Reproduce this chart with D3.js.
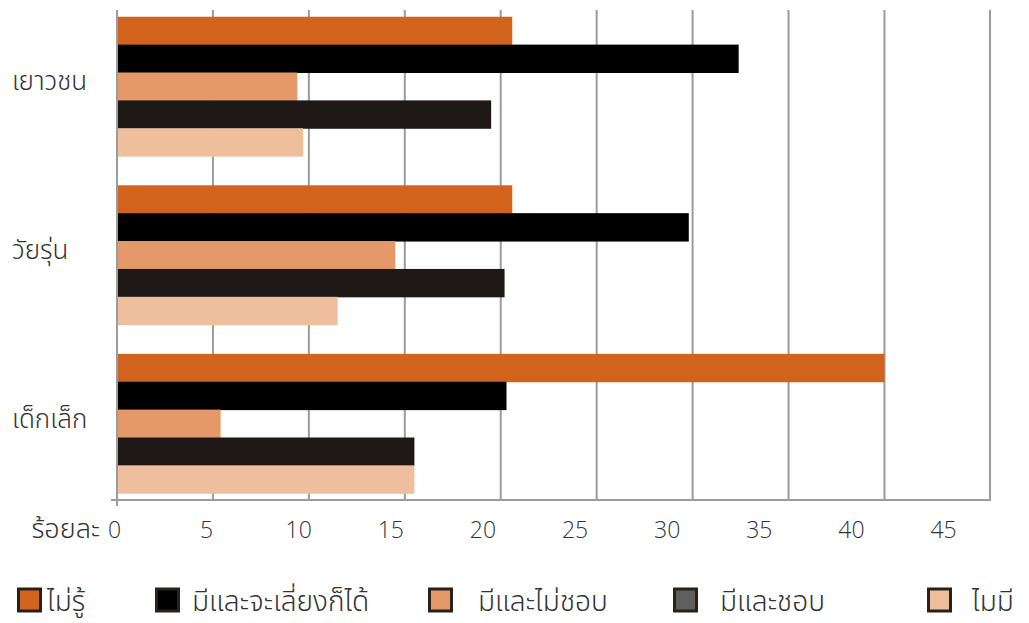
<!DOCTYPE html>
<html>
<head>
<meta charset="utf-8">
<script src="https://cdn.jsdelivr.net/npm/d3@7"></script>
<style>
  body { margin: 0; background: #fff; }
  svg { display: block; font-family: "Noto Sans Thai", "Leelawadee UI", Tahoma, "Noto Sans", sans-serif; font-weight: 300; }
</style>
</head>
<body>
<svg id="chart" width="1029" height="623"></svg>
<script>
// age groups, top to bottom
const categories = ["เยาวชน", "วัยรุ่น", "เด็กเล็ก"];
const seriesNames = ["ไม่รู้", "มีและจะเลี่ยงก็ได้", "มีและไม่ชอบ", "มีและชอบ", "ไมมี"];
const barColors = ["#d2631c", "#000000", "#e59968", "#1e1916", "#efbe9c"];
const legendColors = ["#d2631c", "#000000", "#e59968", "#5f5f5f", "#efbe9c"];
// percent per series, one value per category (เยาวชน, วัยรุ่น, เด็กเล็ก)
const noIdea = [20.6, 20.6, 40.0];
const haveAvoidOk = [32.4, 29.8, 20.3];
const haveDislike = [9.4, 14.5, 5.4];
const haveLike = [19.5, 20.2, 15.5];
const none = [9.7, 11.5, 15.5];
const tickValues = [0, 5, 10, 15, 20, 25, 30, 35, 40, 45];
const gridValues = [0, 5, 10, 15, 20, 25, 30, 35, 40];
const axisTitle = "ร้อยละ";

const values = [noIdea, haveAvoidOk, haveDislike, haveLike, none];

const svg = d3.select("#chart");
const plot = { left: 117, right: 990, top: 10, bottom: 500 };
const gridColor = "#9c9ca0";

var x = d3.scaleLinear().domain([0, 45.5]).range([plot.left, plot.right]);
// tick text sits a little off the grid in the original
var xLabel = d3.scaleLinear().domain([0, 45]).range([114, 943]);

var y0 = d3.scaleBand().domain(categories).range([plot.top, plot.bottom])
    .paddingInner(0.173).paddingOuter(0.04);
var y1 = d3.scaleBand().domain(d3.range(seriesNames.length)).range([0, y0.bandwidth()]);

// vertical grid lines
svg.append("g").selectAll("line")
    .data(gridValues.slice(1))
    .join("line")
    .attr("x1", d => x(d)).attr("x2", d => x(d))
    .attr("y1", plot.top).attr("y2", plot.bottom)
    .attr("stroke", gridColor).attr("stroke-width", 2);

// right border
svg.append("line")
    .attr("x1", x(45.5)).attr("x2", x(45.5))
    .attr("y1", plot.top).attr("y2", plot.bottom + 1)
    .attr("stroke", gridColor).attr("stroke-width", 2);

// bars
const groups = svg.append("g").selectAll("g")
    .data(categories)
    .join("g")
    .attr("transform", d => `translate(0,${y0(d)})`);

groups.selectAll("rect")
    .data((c, ci) => values.map((s, si) => ({ si: si, v: s[ci] })))
    .join("rect")
    .attr("x", x(0))
    .attr("y", d => y1(d.si))
    .attr("width", d => x(d.v) - x(0))
    .attr("height", y1.bandwidth() + 0.5)
    .attr("fill", d => barColors[d.si]);

// left axis line and bottom axis line
svg.append("line")
    .attr("x1", x(0)).attr("x2", x(0))
    .attr("y1", plot.top).attr("y2", plot.bottom + 6)
    .attr("stroke", gridColor).attr("stroke-width", 2);
svg.append("line")
    .attr("x1", x(0) - 6).attr("x2", x(45.5) + 1)
    .attr("y1", plot.bottom).attr("y2", plot.bottom)
    .attr("stroke", gridColor).attr("stroke-width", 2);

// tick labels
const xAxis = d3.axisBottom(xLabel).tickValues(tickValues).tickSize(0).tickPadding(0);
const axisG = svg.append("g").attr("transform", `translate(0,${plot.bottom + 38})`).call(xAxis);
axisG.select(".domain").remove();
axisG.selectAll("text")
    .attr("dy", 0)
    .style("font-family", "'Open Sans', 'Noto Sans', sans-serif")
    .style("font-weight", 300)
    .style("font-size", "23px")
    .attr("fill", "#333");

svg.append("text")
    .attr("x", 100).attr("y", plot.bottom + 38)
    .attr("text-anchor", "end")
    .style("font-size", "27px")
    .attr("fill", "#333")
    .text(axisTitle);

// category labels
svg.append("g").selectAll("text")
    .data(categories)
    .join("text")
    .attr("x", 12)
    .attr("y", d => y0(d) + y0.bandwidth() / 2 + 4)
    .style("font-size", "26px")
    .attr("fill", "#333")
    .text(d => d);

// legend
const legendX = [17, 155, 428, 673, 927];
const legendTextX = [47, 192, 478, 720, 972];
const legend = svg.append("g").selectAll("g")
    .data(seriesNames)
    .join("g");
legend.append("rect")
    .attr("x", (d, i) => legendX[i] + 1.5)
    .attr("y", 589)
    .attr("width", 22).attr("height", 22)
    .attr("fill", (d, i) => legendColors[i])
    .attr("stroke", "#2a201c").attr("stroke-width", 3);
legend.append("text")
    .attr("x", (d, i) => legendTextX[i])
    .attr("y", 611)
    .style("font-size", "28px")
    .attr("fill", "#333")
    .text(d => d);
</script>
</body>
</html>
